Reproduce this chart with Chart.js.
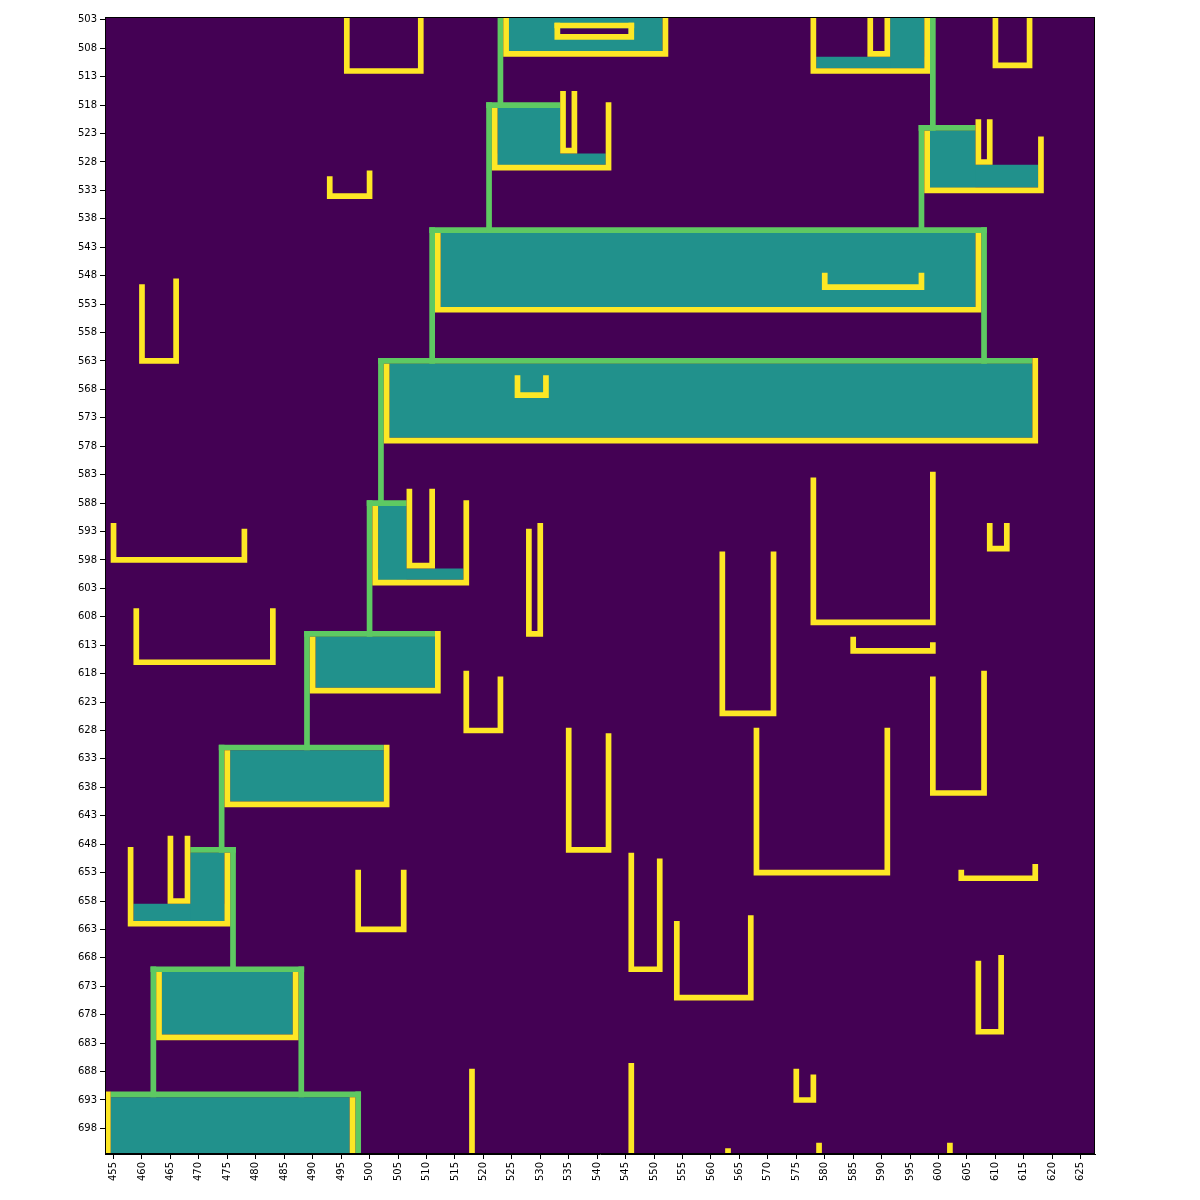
<!DOCTYPE html>
<html>
<head>
<meta charset="utf-8">
<script src="https://cdn.jsdelivr.net/npm/chart.js@4.4.0/dist/chart.umd.min.js"></script>
<style>
html,body{margin:0;padding:0;background:#ffffff;}
#wrap{width:1200px;height:1200px;position:relative;}
</style>
</head>
<body>
<div id="wrap"><canvas id="c" width="1200" height="1200"></canvas></div>
<script>
// ---- axis tick labels ----
const xTicks = [455,460,465,470,475,480,485,490,495,500,505,510,515,520,525,530,535,540,545,550,555,560,565,570,575,580,585,590,595,600,605,610,615,620,625];
const yTicks = [503,508,513,518,523,528,533,538,543,548,553,558,563,568,573,578,583,588,593,598,603,608,613,618,623,628,633,638,643,648,653,658,663,668,673,678,683,688,693,698];

// ---- grid extent (cells) ----
const gridCols = [454, 627];
const gridRows = [503, 702];

// ---- level colours (viridis) ----
const levelColors = ['#440154', '#21918c', '#5ec962', '#fde725'];

// ---- teal filled regions [xFrom, xTo, yFrom, yTo] (inclusive cells) ----
const tealCells = [
  [525,551,503,508],
  [592,597,503,511],[579,597,510,511],
  [523,533,519,528],[523,541,527,528],
  [599,606,523,532],[599,617,529,532],
  [513,606,541,553],
  [504,616,564,576],
  [502,506,589,601],[502,516,600,601],
  [491,511,612,620],
  [476,502,632,640],
  [469,474,650,661],[459,474,659,661],
  [464,486,671,681],
  [455,496,693,702]
];

// ---- background-level cells inside teal regions ----
const holeCells = [
  [534,545,505,505]
];

// ---- green path cells [xFrom, xTo, yFrom, yTo] ----
const greenCells = [
  [523,523,503,518],
  [521,533,518,518],
  [521,521,518,540],
  [511,608,540,540],
  [511,511,540,563],
  [608,608,540,563],
  [502,616,563,563],
  [599,599,503,522],
  [597,606,522,522],
  [597,597,522,540],
  [502,502,563,588],
  [500,506,588,588],
  [500,500,588,611],
  [489,511,611,611],
  [489,489,611,631],
  [474,502,631,631],
  [474,474,631,649],
  [469,476,649,649],
  [476,476,649,670],
  [462,488,670,670],
  [462,462,670,692],
  [488,488,670,692],
  [455,498,692,692],
  [498,498,692,702]
];

// ---- yellow U shapes [xLeft, xRight, yTopLeft, yTopRight, yBottom] ----
const yellowU = [
  [496,509,503,503,512],
  [524,552,503,503,509],
  [533,546,504,504,506],
  [522,542,519,518,529],
  [534,536,516,516,526],
  [578,598,503,503,512],
  [588,591,503,503,509],
  [610,616,503,503,511],
  [598,618,523,524,533],
  [607,609,521,521,528],
  [493,500,531,530,534],
  [512,607,541,541,554],
  [580,597,548,548,550],
  [460,466,550,549,563],
  [503,617,564,563,577],
  [526,531,566,566,569],
  [501,517,589,588,602],
  [507,511,586,586,599],
  [455,478,592,593,598],
  [578,599,584,583,609],
  [609,612,592,592,596],
  [528,530,593,592,611],
  [562,571,597,597,625],
  [459,483,607,607,616],
  [490,512,612,611,621],
  [585,599,612,613,614],
  [517,523,618,619,628],
  [599,608,619,618,639],
  [475,503,632,631,641],
  [535,542,628,629,649],
  [568,591,628,628,653],
  [458,475,649,650,662],
  [465,468,647,647,658],
  [498,506,653,653,663],
  [604,617,653,652,654],
  [546,551,650,651,670],
  [554,567,662,661,675],
  [607,611,669,668,681],
  [463,487,671,671,682],
  [575,578,688,689,693]
];

// ---- yellow straight bars [xFrom, xTo, yFrom, yTo] ----
const yellowBars = [
  [533,546,504,504],
  [454,454,692,702],
  [497,497,693,702],
  [518,518,688,702],
  [546,546,687,702],
  [563,563,702,702],
  [579,579,701,702],
  [602,602,701,702]
];

// ---- build polygons in data space ----
function rectPoly(r) {
  const x0 = r[0] - 0.5, x1 = r[1] + 0.5, y0 = r[2] - 0.5, y1 = r[3] + 0.5;
  return [{x:x0,y:y0},{x:x1,y:y0},{x:x1,y:y1},{x:x0,y:y1},{x:x0,y:y0}];
}
function uPoly(u) {
  const L = u[0] - 0.5, L2 = u[0] + 0.5, R1 = u[1] - 0.5, R = u[1] + 0.5;
  const TL = u[2] - 0.5, TR = u[3] - 0.5, B1 = u[4] - 0.5, B = u[4] + 0.5;
  return [{x:L,y:TL},{x:L2,y:TL},{x:L2,y:B1},{x:R1,y:B1},{x:R1,y:TR},{x:R,y:TR},{x:R,y:B},{x:L,y:B},{x:L,y:TL}];
}
const datasets = [];
function addShape(points, color, order) {
  datasets.push({
    data: points, showLine: true, fill: 'shape',
    backgroundColor: color, borderColor: color, borderWidth: 0,
    pointRadius: 0, pointHoverRadius: 0, pointHitRadius: 0,
    tension: 0, order: order
  });
}
addShape(rectPoly([gridCols[0], gridCols[1], gridRows[0], gridRows[1]]), levelColors[0], 10);
tealCells.forEach(r => addShape(rectPoly(r), levelColors[1], 8));
holeCells.forEach(r => addShape(rectPoly(r), levelColors[0], 7));
greenCells.forEach(r => addShape(rectPoly(r), levelColors[2], 6));
yellowU.forEach(u => addShape(uPoly(u), levelColors[3], 4));
yellowBars.forEach(r => addShape(rectPoly(r), levelColors[3], 3));

const framePlugin = {
  id: 'frame',
  afterDraw(chart) {
    const a = chart.chartArea, ctx = chart.ctx;
    ctx.save();
    ctx.strokeStyle = '#000';
    ctx.lineWidth = 1;
    ctx.strokeRect(Math.round(a.left) + 0.5, Math.round(a.top) + 0.5, Math.round(a.right - a.left) - 1, Math.round(a.bottom - a.top) - 1);
    ctx.restore();
  }
};

const tickFont = {family: 'DejaVu Sans', size: 10};
new Chart(document.getElementById('c'), {
  type: 'scatter',
  data: {datasets: datasets},
  plugins: [framePlugin],
  options: {
    responsive: false,
    animation: false,
    devicePixelRatio: 1,
    layout: {padding: {top: 17, right: 105, left: 0, bottom: 0}},
    plugins: {legend: {display: false}, tooltip: {enabled: false}},
    events: [],
    scales: {
      x: {
        type: 'linear', position: 'bottom',
        min: gridCols[0] - 0.5, max: gridCols[1] + 0.5,
        afterBuildTicks: s => { s.ticks = xTicks.map(v => ({value: v})); },
        afterFit: s => { s.height = 46; },
        ticks: {autoSkip: false, minRotation: 90, maxRotation: 90, font: tickFont, color: '#000', padding: 3},
        grid: {display: true, drawOnChartArea: false, drawTicks: true, tickLength: 5, color: '#000', lineWidth: 1},
        border: {display: true, color: '#000', width: 1}
      },
      y: {
        type: 'linear', position: 'left', reverse: true,
        min: gridRows[0] - 0.5, max: gridRows[1] + 0.5,
        afterBuildTicks: s => { s.ticks = yTicks.map(v => ({value: v})); },
        afterFit: s => { s.width = 105; },
        ticks: {autoSkip: false, font: tickFont, color: '#000', padding: 3},
        grid: {display: true, drawOnChartArea: false, drawTicks: true, tickLength: 5, color: '#000', lineWidth: 1},
        border: {display: true, color: '#000', width: 1}
      }
    }
  }
});
</script>
</body>
</html>
